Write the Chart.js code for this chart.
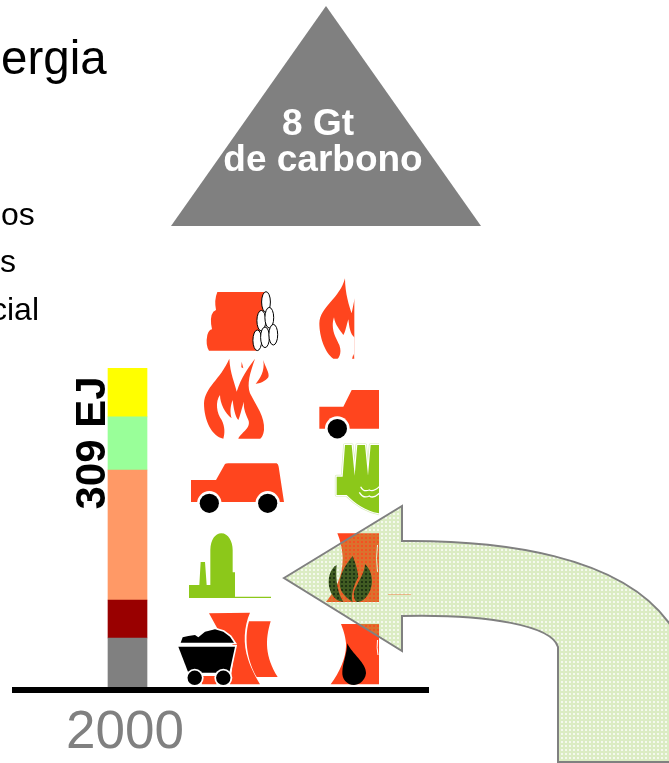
<!DOCTYPE html>
<html>
<head>
<meta charset="utf-8">
<style>html,body{margin:0;padding:0;background:#fff;overflow:hidden}canvas{display:block}</style>
<script src="https://cdn.jsdelivr.net/npm/chart.js@4/dist/chart.umd.js"></script>
</head>
<body>
<canvas id="c" width="669" height="763"></canvas>
<script>
const years = [2000];
const tickYears = [2000];
const carbon = [49.5];
const darkRed = [36.5];
const salmon = [125];
const lightGreen = [51];
const yellow = [47];
const seriesColors = ['#808080', '#990000', '#FF9966', '#99FF99', '#FFFF00'];
const totalLabel = '309 EJ';
const triangleLabels = ['8 Gt', 'de carbono'];

const ORANGE = '#FF451E', GREEN = '#8CC81A', SANS = '"Liberation Sans", Arial, sans-serif';

function zoomPath(ctx, ox, oy, d, fill) {
  ctx.save();
  ctx.translate(ox, oy);
  ctx.scale(1 / 3, 1 / 3);
  ctx.fillStyle = fill;
  ctx.fill(new Path2D(d));
  ctx.restore();
}
function disc(ctx, x, y, r, c) {
  ctx.fillStyle = c;
  ctx.beginPath();
  ctx.arc(x, y, r, 0, Math.PI * 2);
  ctx.fill();
}
function clipLeftOf(ctx, x) {
  ctx.beginPath();
  ctx.rect(0, 0, x, 763);
  ctx.clip();
}

function drawText(ctx) {
  ctx.textAlign = 'left';
  ctx.textBaseline = 'alphabetic';
  ctx.fillStyle = '#000';
  ctx.font = '47.5px ' + SANS;
  ctx.fillText('ergia', 1, 74);
  ctx.font = '32px ' + SANS;
  ctx.fillText('os', 1, 225);
  ctx.fillText('s', 0, 272);
  ctx.fillText('cial', -9, 320);
}

function drawTriangle(ctx) {
  ctx.fillStyle = '#808080';
  ctx.beginPath();
  ctx.moveTo(326, 6);
  ctx.lineTo(481, 226);
  ctx.lineTo(171, 226);
  ctx.closePath();
  ctx.fill();
  ctx.fillStyle = '#fff';
  ctx.font = 'bold 37px ' + SANS;
  ctx.textAlign = 'center';
  ctx.fillText(triangleLabels[0], 318, 135);
  ctx.fillText(triangleLabels[1], 323, 171);
}

function drawTotal(ctx) {
  ctx.save();
  ctx.translate(105, 443);
  ctx.rotate(-Math.PI / 2);
  ctx.fillStyle = '#000';
  ctx.font = 'bold 42px ' + SANS;
  ctx.textAlign = 'center';
  ctx.fillText(totalLabel, 0, 0);
  ctx.restore();
}

function drawLogs(ctx) {
  zoomPath(ctx, 60, 270, 'M 472 66 L 620 66 L 590 242 L 447 242 Q 436 225 442 195 Q 446 180 456 178 Q 448 140 460 125 L 468 120 Q 462 90 472 66 Z', ORANGE);
  ctx.strokeStyle = '#000';
  ctx.lineWidth = 1;
  ctx.fillStyle = '#fff';
  [[266, 302], [261.3, 320.7], [269.3, 317.7], [257.3, 340.3], [265, 337.3], [273.3, 334.7]].forEach(p => {
    ctx.beginPath();
    ctx.ellipse(p[0], p[1], 4.4, 10.3, 0, 0, Math.PI * 2);
    ctx.fill();
    ctx.stroke();
  });
}

function drawBigFlame(ctx) {
  zoomPath(ctx, 60, 270, 'M 490 506 C 455 500 432 450 432 400 C 435 350 480 330 508 266 C 510 310 525 340 530 365 C 545 320 560 300 585 266 C 570 310 560 340 570 370 C 590 410 615 440 612 480 C 610 495 605 505 600 506 L 535 506 C 540 490 575 475 565 450 C 555 425 550 415 552 395 C 545 415 540 440 535 450 C 525 440 520 410 518 390 C 510 410 510 430 515 445 C 495 430 480 400 480 375 C 465 395 470 430 485 450 C 495 470 495 490 490 506 Z', ORANGE);
  zoomPath(ctx, 60, 270, 'M 610 270 C 615 290 630 310 625 322 C 615 335 600 340 587 342 C 600 325 615 305 610 270 Z M 545 275 L 550 295 L 544 292 Z', ORANGE);
}

function drawCar(ctx) {
  zoomPath(ctx, 60, 270, 'M 393 630 L 468 630 L 495 582 Q 497 580 505 580 L 650 580 Q 655 582 656 590 L 672 696 L 393 696 Z', ORANGE);
  [[209.3, 503.3], [267.7, 503.3]].forEach(p => {
    disc(ctx, p[0], p[1], 12.2, '#fff');
    disc(ctx, p[0], p[1], 9.6, '#000');
  });
}

function drawPlant(ctx) {
  zoomPath(ctx, 60, 500, 'M 387 294 L 387 255 L 418 255 L 422 186 L 435 186 L 440 255 L 451 255 L 451 150 C 452 120 465 100 484 100 C 505 100 518 125 518 150 L 518 217 L 525 217 L 525 290 L 633 290 L 633 294 Z', GREEN);
}

function drawCartTower(ctx) {
  zoomPath(ctx, 60, 500, 'M 447 340 L 570 338 C 552 380 548 430 565 480 C 575 510 590 535 600 553 L 510 553 L 525 440 L 480 400 Z', ORANGE);
  zoomPath(ctx, 60, 500, 'M 567 364 L 632 364 C 615 420 615 470 653 531 L 590 531 C 565 490 550 420 567 364 Z', ORANGE);
  zoomPath(ctx, 60, 500, 'M 427 528 L 467 528 L 470 553 L 425 553 Z', ORANGE);
  ctx.save();
  ctx.translate(60, 500);
  ctx.scale(1 / 3, 1 / 3);
  const heap = new Path2D('M 362 428 L 368 412 L 385 408 L 405 405 L 415 412 L 435 395 L 465 388 L 490 395 L 510 410 L 522 428 Z');
  ctx.strokeStyle = '#fff';
  ctx.lineWidth = 10;
  ctx.stroke(heap);
  ctx.fillStyle = '#000';
  ctx.fill(heap);
  const body = new Path2D('M 355 440 L 525 440 L 508 518 L 385 518 Z');
  ctx.stroke(body);
  ctx.fill(body);
  ctx.restore();
  [[194.7, 677.8], [223.3, 677.8]].forEach(p => {
    disc(ctx, p[0], p[1], 9, '#fff');
    disc(ctx, p[0], p[1], 7.2, '#000');
  });
}

function drawRightColumn(ctx) {
  ctx.save();
  clipLeftOf(ctx, 354.5);
  zoomPath(ctx, 290, 270, 'M 130 266 C 105 250 88 200 88 160 C 90 110 150 85 165 25 C 165 70 178 110 185 130 L 194 85 L 194 266 L 130 266 Z', ORANGE);
  zoomPath(ctx, 290, 270, 'M 132 142 C 120 180 140 205 148 225 C 155 245 150 260 142 268 L 186 268 L 190 252 L 194 268 L 200 268 L 200 205 C 180 200 178 170 175 148 C 170 165 165 190 160 195 C 150 180 135 165 132 142 Z', '#fff');
  ctx.restore();

  ctx.save();
  clipLeftOf(ctx, 379);
  zoomPath(ctx, 290, 270, 'M 88 410 L 160 410 L 185 360 L 290 360 L 290 476 L 88 476 Z', ORANGE);
  disc(ctx, 337.3, 428.7, 12.4, '#fff');
  disc(ctx, 337.3, 428.7, 9.7, '#000');

  ctx.save();
  ctx.translate(320, 435);
  ctx.scale(1 / 3, 1 / 3);
  const factory = new Path2D('M 50 125 L 68 125 L 75 30 L 95 30 L 104 122 L 112 30 L 135 30 L 144 122 L 152 30 L 178 30 L 178 235 C 135 228 105 205 80 180 L 50 180 Z');
  ctx.lineJoin = 'round';
  ctx.strokeStyle = '#D9EBBE';
  ctx.lineWidth = 11;
  ctx.stroke(factory);
  ctx.strokeStyle = '#fff';
  ctx.lineWidth = 7;
  ctx.stroke(factory);
  ctx.fillStyle = GREEN;
  ctx.fill(factory);
  ctx.strokeStyle = '#fff';
  ctx.lineWidth = 4;
  ctx.beginPath();
  ctx.moveTo(122, 155);
  ctx.quadraticCurveTo(130, 172, 148, 165);
  ctx.quadraticCurveTo(160, 172, 178, 155);
  ctx.moveTo(118, 172);
  ctx.quadraticCurveTo(130, 192, 148, 183);
  ctx.quadraticCurveTo(160, 192, 178, 175);
  ctx.stroke();
  ctx.restore();

  zoomPath(ctx, 280, 500, 'M 172 100 L 300 100 L 300 280 L 323 280 L 332 306 L 138 306 C 165 270 190 230 188 170 C 186 140 180 120 172 100 Z', ORANGE);
  zoomPath(ctx, 280, 500, 'M 170 195 C 150 205 140 240 150 270 C 158 295 175 305 190 305 C 175 285 165 240 170 195 Z M 218 168 C 195 195 175 230 180 260 C 185 285 205 295 218 307 C 210 285 225 250 235 230 C 232 205 225 185 218 168 Z M 255 192 C 255 220 230 250 222 275 C 220 290 225 305 232 306 C 255 305 275 275 276 245 C 276 222 268 205 255 192 Z', '#14240C');
  zoomPath(ctx, 280, 500, 'M 183 372 L 300 372 L 300 553 L 152 553 C 180 515 200 470 198 430 C 196 405 188 385 183 372 Z', ORANGE);
  zoomPath(ctx, 280, 500, 'M 202 430 C 215 460 260 490 258 520 C 255 545 235 555 222 555 C 200 555 185 535 187 515 C 188 490 200 465 202 430 Z', '#000');
  ctx.strokeStyle = '#fff';
  ctx.lineWidth = 1;
  ctx.beginPath();
  ctx.moveTo(377.5, 545);
  ctx.quadraticCurveTo(375.5, 558, 377.5, 572);
  ctx.moveTo(377.5, 640);
  ctx.quadraticCurveTo(376.5, 648, 378, 655);
  ctx.stroke();
  ctx.restore();
  ctx.fillStyle = '#FFB09A';
  ctx.fillRect(388, 594, 23, 1);
}

function drawArrow(ctx) {
  const tile = document.createElement('canvas');
  tile.width = 4;
  tile.height = 4;
  const t = tile.getContext('2d');
  t.fillStyle = 'rgba(150,200,80,0.34)';
  t.fillRect(0, 0, 4, 4);
  t.clearRect(1, 1, 2, 2);
  t.fillStyle = 'rgba(150,200,80,0.10)';
  t.fillRect(1, 1, 2, 2);
  const shape = new Path2D('M 284 578 L 402 506 L 402 541 C 500 540 620 555 669 623 L 720 700 L 720 762 L 558 762 L 558 647 C 552 626 490 614 402 616 L 402 651 Z');
  ctx.fillStyle = ctx.createPattern(tile, 'repeat');
  ctx.fill(shape);
  ctx.strokeStyle = '#808080';
  ctx.lineWidth = 2;
  ctx.lineJoin = 'miter';
  ctx.stroke(shape);
}

const decorations = {
  id: 'decorations',
  afterDraw(chart) {
    const ctx = chart.ctx;
    ctx.save();
    drawText(ctx);
    drawTriangle(ctx);
    drawTotal(ctx);
    drawLogs(ctx);
    drawBigFlame(ctx);
    drawCar(ctx);
    drawPlant(ctx);
    drawCartTower(ctx);
    drawRightColumn(ctx);
    drawArrow(ctx);
    ctx.restore();
  }
};

const asPoints = vals => vals.map((v, i) => ({ x: years[i], y: v }));

new Chart(document.getElementById('c'), {
  type: 'bar',
  data: {
    datasets: [carbon, darkRed, salmon, lightGreen, yellow].map((vals, i) => ({
      data: asPoints(vals),
      backgroundColor: seriesColors[i],
      borderWidth: 0,
      barThickness: 39
    }))
  },
  options: {
    responsive: false,
    animation: false,
    layout: { padding: { top: 368, left: 15, right: 241, bottom: 0 } },
    plugins: { legend: { display: false }, tooltip: { enabled: false } },
    scales: {
      x: {
        type: 'linear',
        stacked: true,
        offset: false,
        min: 1971,
        max: 2077.46,
        afterBuildTicks(scale) { scale.ticks = tickYears.map(v => ({ value: v })); },
        afterFit(scale) {
          scale.height = 73.5;
          scale.paddingLeft = 0;
          scale.paddingRight = 0;
        },
        grid: { display: false, drawTicks: false },
        border: { display: true, color: '#000', width: 6, z: 1 },
        ticks: {
          color: '#808080',
          font: { family: SANS, size: 53 },
          padding: 12,
          labelOffset: -2.5,
          maxRotation: 0,
          autoSkip: false,
          callback: v => String(v)
        }
      },
      y: { stacked: true, display: false, min: 0, max: 309, grid: { display: false } }
    }
  },
  plugins: [decorations]
});
</script>
</body>
</html>
